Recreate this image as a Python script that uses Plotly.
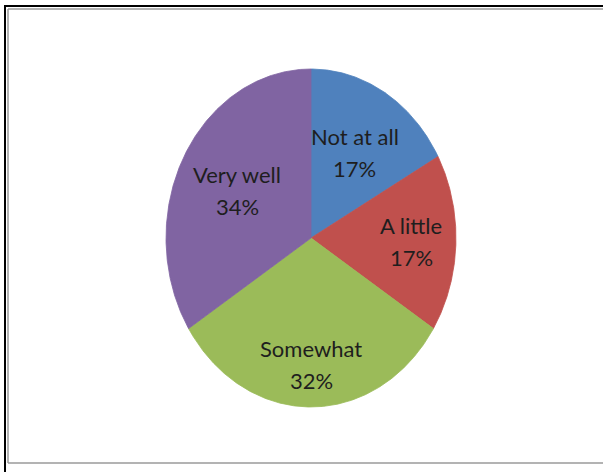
import numpy as np
import plotly.graph_objects as go

# Survey answers and their shares (%)
categories = ["Not at all", "A little", "Somewhat", "Very well"]
shares = [17, 17, 32, 34]
colors = ["#4F81BD", "#C0504D", "#9BBB59", "#8064A2"]

W, H = 603, 472
# Elliptical pie geometry in pixel units
cx, cy = 311, 238
rx, ry = 145, 169
label_frac = [0.59, 0.69, 0.75, 0.58]

fig = go.Figure()

total = float(sum(shares))
start = 0.0  # degrees clockwise from 12 o'clock
for name, val, col, lf in zip(categories, shares, colors, label_frac):
    span = 360.0 * val / total
    ang = np.radians(np.linspace(start, start + span, 240))
    xs = np.concatenate([[cx], cx + rx * np.sin(ang), [cx]])
    ys = np.concatenate([[cy], cy - ry * np.cos(ang), [cy]])
    fig.add_trace(go.Scatter(
        x=xs, y=ys, mode="lines", fill="toself",
        fillcolor=col, line=dict(color=col, width=0.8),
        hoverinfo="text", text=f"{name}: {val}%", showlegend=False,
    ))
    mid = np.radians(start + span / 2)
    lx = cx + lf * rx * np.sin(mid)
    ly = cy - lf * ry * np.cos(mid)
    for txt, shift in ((name, 16), (f"{val}%", -16)):
        fig.add_annotation(
            x=lx, y=ly, xref="x", yref="y", text=txt, showarrow=False,
            yshift=shift, font=dict(family="Lato", size=22, color="#1e1e1e"),
        )
    start += span

# Frame lines around the chart area
def px_line(x0, y0, x1, y1, color, width):
    fig.add_shape(type="line", xref="paper", yref="paper",
                  x0=x0 / W, y0=1 - y0 / H, x1=x1 / W, y1=1 - y1 / H,
                  line=dict(color=color, width=width))

px_line(4, 6, W, 6, "#000000", 2)
px_line(5, 5, 5, H, "#000000", 2)
px_line(8, 9, W, 9, "#9a9a9a", 1.5)
px_line(8, 9, 8, 463, "#9a9a9a", 1.5)
px_line(8, 463, W, 463, "#9a9a9a", 1.5)

fig.update_xaxes(range=[0, W], visible=False, fixedrange=True)
fig.update_yaxes(range=[H, 0], visible=False, fixedrange=True)
fig.update_layout(
    width=W, height=H, margin=dict(l=0, r=0, t=0, b=0),
    paper_bgcolor="white", plot_bgcolor="white",
)

fig.write_html("out.html")
